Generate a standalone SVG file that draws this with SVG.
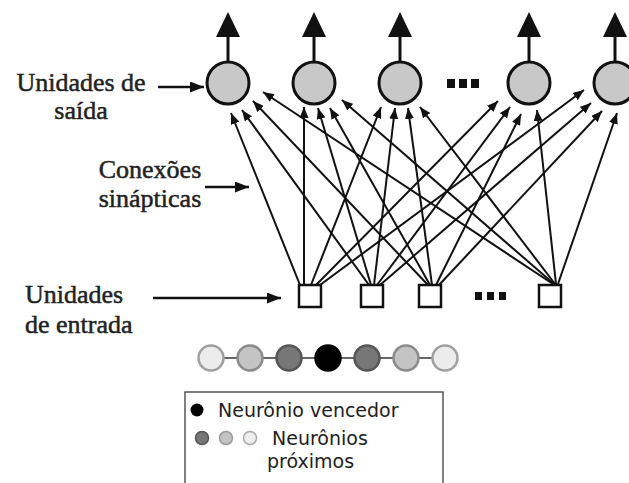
<svg xmlns="http://www.w3.org/2000/svg" width="629" height="483" viewBox="0 0 629 483">
<defs>
<marker id="ah" markerUnits="userSpaceOnUse" markerWidth="11" markerHeight="9" refX="11" refY="4.5" orient="auto"><path d="M0,0 L11,4.5 L0,9 z" fill="#111"/></marker>
<marker id="ahl" markerUnits="userSpaceOnUse" markerWidth="14" markerHeight="11" refX="14" refY="5.5" orient="auto"><path d="M0,0 L14,5.5 L0,11 z" fill="#111"/></marker>
<style>
.lbl{font-family:"Liberation Serif","Times New Roman",serif;font-size:26px;fill:#222;stroke:#222;stroke-width:0.5}
.leg{font-family:"DejaVu Sans",Verdana,sans-serif;font-size:19px;fill:#222}
.out{fill:#c8c8c8;stroke:#111;stroke-width:3}
.inp{fill:#fff;stroke:#111;stroke-width:2.5}
.stem{stroke:#111;stroke-width:3}
.tri{fill:#111}
.conn line{stroke:#111;stroke-width:2;marker-end:url(#ah)}
.larrow{stroke:#111;stroke-width:2.5;marker-end:url(#ahl)}
.dot{fill:#111}
</style>
</defs>
<rect width="629" height="483" fill="#fff"/>

<g id="labels">
<text class="lbl" x="81" y="91" text-anchor="middle">Unidades de</text>
<text class="lbl" x="81" y="119" text-anchor="middle">saída</text>
<line class="larrow" x1="158" y1="87" x2="204" y2="87"/>
<text class="lbl" x="150" y="178" text-anchor="middle">Conexões</text>
<text class="lbl" x="150" y="207" text-anchor="middle">sinápticas</text>
<line class="larrow" x1="205" y1="187" x2="249" y2="187"/>
<text class="lbl" x="25" y="303">Unidades</text>
<text class="lbl" x="25" y="333">de entrada</text>
<line class="larrow" x1="153" y1="298" x2="281" y2="298"/>
</g>

<g id="connectors" class="conn">
<line x1="300" y1="285" x2="231" y2="113"/>
<line x1="304" y1="285" x2="304" y2="107"/>
<line x1="311" y1="285" x2="381" y2="107"/>
<line x1="316" y1="285" x2="498" y2="101"/>
<line x1="320" y1="285" x2="584" y2="90"/>
<line x1="369" y1="285" x2="242" y2="110"/>
<line x1="371" y1="285" x2="318" y2="108"/>
<line x1="374" y1="285" x2="395" y2="108"/>
<line x1="377" y1="285" x2="510" y2="107"/>
<line x1="380" y1="285" x2="591" y2="103"/>
<line x1="428" y1="285" x2="253" y2="101"/>
<line x1="430" y1="285" x2="330" y2="108"/>
<line x1="432" y1="285" x2="408" y2="108"/>
<line x1="436" y1="285" x2="521" y2="114"/>
<line x1="439" y1="285" x2="602" y2="111"/>
<line x1="553" y1="284" x2="263" y2="92"/>
<line x1="554" y1="284" x2="342" y2="100"/>
<line x1="555" y1="284" x2="420" y2="107"/>
<line x1="556" y1="284" x2="537" y2="110"/>
<line x1="558" y1="284" x2="617" y2="113"/>
</g>

<g id="out1"><line class="stem" x1="228" y1="62" x2="228" y2="36"/><polygon class="tri" points="228,12 216,37 240,37"/><circle class="out" cx="228" cy="83" r="21"/></g>
<g id="out2"><line class="stem" x1="314" y1="62" x2="314" y2="36"/><polygon class="tri" points="314,12 302,37 326,37"/><circle class="out" cx="314" cy="83" r="21"/></g>
<g id="out3"><line class="stem" x1="400" y1="62" x2="400" y2="36"/><polygon class="tri" points="400,12 388,37 412,37"/><circle class="out" cx="400" cy="83" r="21"/></g>
<g id="out-dots"><rect class="dot" x="447" y="79" width="8" height="9"/><rect class="dot" x="459" y="79" width="8" height="9"/><rect class="dot" x="471" y="79" width="8" height="9"/></g>
<g id="out4"><line class="stem" x1="529" y1="62" x2="529" y2="36"/><polygon class="tri" points="529,12 517,37 541,37"/><circle class="out" cx="529" cy="83" r="21"/></g>
<g id="out5"><line class="stem" x1="615" y1="62" x2="615" y2="36"/><polygon class="tri" points="615,12 603,37 627,37"/><circle class="out" cx="615" cy="83" r="21"/></g>

<g id="in1"><rect class="inp" x="299" y="285" width="22" height="22"/></g>
<g id="in2"><rect class="inp" x="361" y="285" width="22" height="22"/></g>
<g id="in3"><rect class="inp" x="419" y="285" width="22" height="22"/></g>
<g id="in-dots"><rect class="dot" x="475" y="292" width="7" height="8"/><rect class="dot" x="487" y="292" width="7" height="8"/><rect class="dot" x="499" y="292" width="7" height="8"/></g>
<g id="in4"><rect class="inp" x="539" y="285" width="22" height="22"/></g>

<g id="chain">
<line x1="211" y1="358" x2="445" y2="358" stroke="#666" stroke-width="2"/>
<circle cx="211" cy="358" r="12.5" fill="#ececec" stroke="#a0a0a0" stroke-width="2.5"/>
<circle cx="250" cy="358" r="12.5" fill="#c4c4c4" stroke="#8a8a8a" stroke-width="2.5"/>
<circle cx="289" cy="358" r="12.5" fill="#777" stroke="#555" stroke-width="2.5"/>
<circle cx="328" cy="358" r="12.5" fill="#000" stroke="#000" stroke-width="2.5"/>
<circle cx="367" cy="358" r="12.5" fill="#777" stroke="#555" stroke-width="2.5"/>
<circle cx="406" cy="358" r="12.5" fill="#c4c4c4" stroke="#8a8a8a" stroke-width="2.5"/>
<circle cx="445" cy="358" r="12.5" fill="#ececec" stroke="#a0a0a0" stroke-width="2.5"/>
</g>

<g id="legend">
<path d="M185,492 L185,392 L443,392 L443,492" fill="none" stroke="#555" stroke-width="1.5"/>
<circle cx="197" cy="410" r="6.5" fill="#000"/>
<text class="leg" x="218" y="417">Neurônio vencedor</text>
<circle cx="202" cy="438" r="6.5" fill="#777" stroke="#555" stroke-width="1.5"/>
<circle cx="226" cy="438" r="6.5" fill="#c4c4c4" stroke="#999" stroke-width="1.5"/>
<circle cx="250" cy="438" r="6.5" fill="#eee" stroke="#aaa" stroke-width="1.5"/>
<text class="leg" x="272" y="445">Neurônios</text>
<text class="leg" x="267" y="468">próximos</text>
</g>
</svg>
